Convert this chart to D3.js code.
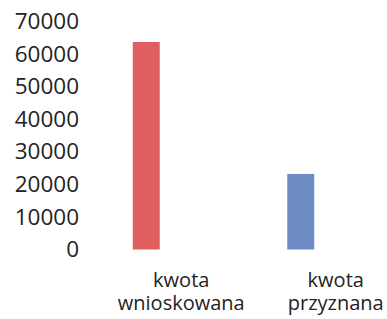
<!DOCTYPE html>
<html>
<head>
<meta charset="utf-8">
<script src="https://cdn.jsdelivr.net/npm/d3@7"></script>
<style>
  html, body { margin: 0; padding: 0; background: #fff; }
  svg { display: block; }
  .tick-label { font-family: "Open Sans", sans-serif; font-size: 22.5px; fill: #232323; }
  .cat-label { font-family: "Open Sans", sans-serif; font-size: 20px; fill: #232323; }
</style>
</head>
<body>
<svg id="chart"></svg>
<script>
// Bar chart: requested vs granted amount.

const categories = [["kwota", "wnioskowana"], ["kwota", "przyznana"]];
const values = [63700, 23200];
const barColors = ["#df5f61", "#6e8dc6"];
const yTicks = [0, 10000, 20000, 30000, 40000, 50000, 60000, 70000];

const W = 387, H = 319;
const BAR_W = 27;
const BAR_OFFSET = -35; // bar sits left of the category centre

const svg = d3.select("#chart").attr("width", W).attr("height", H);

const keys = categories.map(c => c.join(" "));
const x = d3.scaleBand().domain(keys).range([104, 413]).padding(0);
const y = d3.scaleLinear().domain([0, 70000]).range([249.5, 21.5]);

const centre = k => x(k) + x.bandwidth() / 2;

// y tick labels (no axis line, no gridlines)
const yAxis = d3.axisLeft(y).tickValues(yTicks).tickSize(0).tickPadding(0).tickFormat(d3.format("d"));
const ya = svg.append("g").attr("transform", "translate(79,0)").call(yAxis);
ya.select(".domain").remove();
ya.selectAll("text").attr("class", "tick-label").attr("font-size", null).attr("font-family", null);

// bars
svg.append("g").selectAll("rect")
  .data(values)
  .enter().append("rect")
  .attr("x", (d, i) => centre(keys[i]) + BAR_OFFSET - BAR_W / 2)
  .attr("y", d => y(d))
  .attr("width", BAR_W)
  .attr("height", d => y(0) - y(d))
  .attr("fill", (d, i) => barColors[i]);

// category labels, one text per line
const lineData = [];
categories.forEach((lines, i) => lines.forEach((s, j) => lineData.push({ k: keys[i], s, j })));
svg.append("g").selectAll("text")
  .data(lineData)
  .enter().append("text")
  .attr("class", "cat-label")
  .attr("text-anchor", "middle")
  .attr("x", d => centre(d.k))
  .attr("y", d => 287 + d.j * 23)
  .text(d => d.s);
</script>
</body>
</html>
